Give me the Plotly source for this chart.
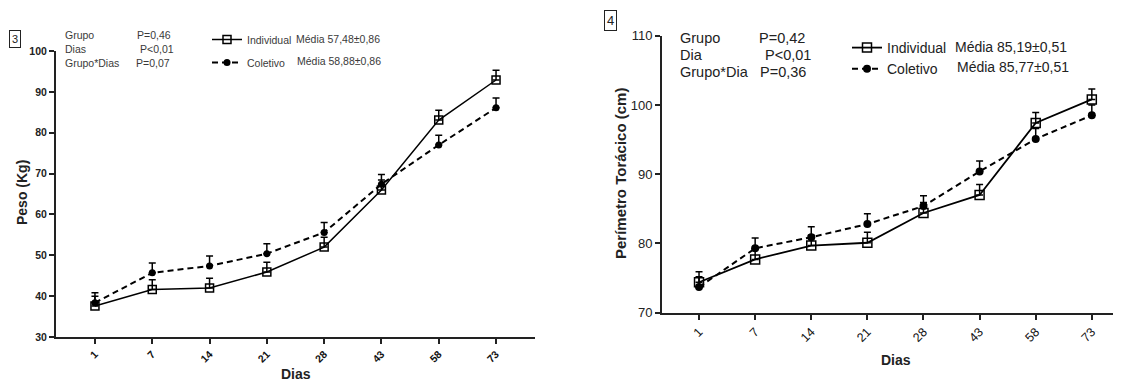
import plotly.graph_objects as go

# The page body has an 8px margin; the figure is sized to fill the visible window.
OFF = 8
W, H = 1121 - OFF, 383 - OFF

dias = ["1", "7", "14", "21", "28", "43", "58", "73"]

# Panel 3 - Peso (Kg)
peso_individual = [37.6, 41.6, 42.0, 45.9, 52.0, 66.0, 83.1, 92.9]
peso_coletivo = [38.4, 45.7, 47.4, 50.4, 55.6, 67.4, 77.0, 86.1]
peso_err_individual = [2.4, 2.4, 2.4, 2.4, 2.4, 2.4, 2.4, 2.4]
peso_err_coletivo = [2.4, 2.4, 2.4, 2.4, 2.4, 2.4, 2.4, 2.4]

# Panel 4 - Perímetro Torácico (cm)
pt_individual = [74.4, 77.7, 79.7, 80.1, 84.4, 87.0, 97.4, 100.8]
pt_coletivo = [73.7, 79.3, 80.9, 82.8, 85.4, 90.4, 95.1, 98.5]
pt_err_individual = [1.5, 1.5, 1.5, 1.5, 1.5, 1.5, 1.5, 1.5]
pt_err_coletivo = [1.5, 1.5, 1.5, 1.5, 1.5, 1.5, 1.5, 1.5]

FONT = "Liberation Sans, Arial, sans-serif"
TXT = "#3a3a3a"


def px(x):
    return (x - OFF) / W


def py(y):
    return 1 - (y - OFF) / H


fig = go.Figure()


def add_pair(ind, col, e_ind, e_col, xa, ya, leg, msize, lw):
    fig.add_trace(go.Scatter(
        x=dias, y=ind, xaxis=xa, yaxis=ya, name="Individual", legend=leg,
        legendgroup=leg + "a",
        mode="lines+markers",
        line=dict(color="black", width=lw),
        marker=dict(symbol="square-open", size=msize, color="black",
                    line=dict(width=1.5, color="black")),
        error_y=dict(type="data", symmetric=False, array=e_ind,
                     arrayminus=[0] * len(e_ind), color="black",
                     thickness=1.5, width=3.5),
    ))
    fig.add_trace(go.Scatter(
        x=dias, y=col, xaxis=xa, yaxis=ya, name="Coletivo", legend=leg,
        legendgroup=leg + "b",
        mode="lines+markers",
        line=dict(color="black", width=2, dash="6px,4px"),
        marker=dict(symbol="circle", size=msize - 1, color="black"),
        error_y=dict(type="data", symmetric=False, array=e_col,
                     arrayminus=[0] * len(e_col), color="black",
                     thickness=1.5, width=3.5),
    ))


add_pair(peso_individual, peso_coletivo, peso_err_individual, peso_err_coletivo,
         "x", "y", "legend", 8, 1.5)
add_pair(pt_individual, pt_coletivo, pt_err_individual, pt_err_coletivo,
         "x2", "y2", "legend2", 9, 1.8)

axis_common = dict(showline=True, linecolor="#222", linewidth=2, ticks="outside",
                   tickcolor="#222", tickwidth=1.5, ticklen=5, showgrid=False,
                   zeroline=False, mirror=False, automargin=False)

fig.update_layout(
    width=W, height=H,
    margin=dict(l=0, r=0, t=0, b=0, autoexpand=False),
    paper_bgcolor="white", plot_bgcolor="white",
    font=dict(family=FONT, color="#222"),
    xaxis=dict(domain=[px(56), px(535)], type="category", range=[-0.68, 7.68],
               tickangle=-45, tickfont=dict(size=10.5, family=FONT, weight="bold", color="#111"),
               anchor="y", **axis_common),
    yaxis=dict(domain=[py(337), py(51)], range=[30, 100], tickvals=[30, 40, 50, 60, 70, 80, 90, 100],
               tickfont=dict(size=10.5, family=FONT, weight="bold", color="#222"),
               anchor="x", **axis_common),
    xaxis2=dict(domain=[px(662), 1.0], type="category", range=[-0.66, 7.52],
                tickangle=-45, tickfont=dict(size=12.5, family=FONT, color="#111"),
                anchor="y2", **axis_common),
    yaxis2=dict(domain=[py(312.7), py(35.7)], range=[70, 110], tickvals=[70, 80, 90, 100, 110],
                tickfont=dict(size=13, family=FONT, color="#222"),
                anchor="x2", **axis_common),
    legend=dict(x=px(207), y=py(25), xanchor="left", yanchor="top",
                font=dict(size=10.5, family=FONT, color=TXT), bgcolor="rgba(0,0,0,0)",
                tracegroupgap=4, itemwidth=30),
    legend2=dict(x=px(847), y=py(32), xanchor="left", yanchor="top",
                 font=dict(size=14, family=FONT, color="#222"), bgcolor="rgba(0,0,0,0)",
                 tracegroupgap=0, itemwidth=30),
    showlegend=True,
)

ann = []


def text(x, y, s, size, color=TXT, bold=False, xanchor="left", angle=0, **kw):
    ann.append(dict(x=px(x), y=py(y), xref="paper", yref="paper", text=s,
                    showarrow=False, xanchor=xanchor, yanchor="middle",
                    textangle=angle,
                    font=dict(size=size, family=FONT, color=color,
                              weight="bold" if bold else "normal"), **kw))


# Panel labels
text(15, 39.5, "3", 11, color="#222", xanchor="center", bordercolor="#222",
     borderwidth=1, borderpad=2)
text(610, 21, "4", 13, color="#222", xanchor="center", bordercolor="#222",
     borderwidth=1, borderpad=2)

# Stats panel 3
text(63, 35, "Grupo", 10.5)
text(63, 49, "Dias", 10.5)
text(63, 63, "Grupo*Dias", 10.5)
text(135, 35, "P=0,46", 10.5)
text(138, 49, "P<0,01", 10.5)
text(134, 63, "P=0,07", 10.5)

# Stats panel 4
text(678, 38, "Grupo", 14.5, color="#222")
text(678, 55, "Dia", 14.5, color="#222")
text(678, 72, "Grupo*Dia", 14.5, color="#222")
text(757, 38, "P=0,42", 14.5, color="#222")
text(763, 55, "P<0,01", 14.5, color="#222")
text(758, 72, "P=0,36", 14.5, color="#222")

# Legend means
text(294, 39, "Média 57,48±0,86", 10.5)
text(295, 61, "Média 58,88±0,86", 10.5)
text(953, 47, "Média 85,19±0,51", 14, color="#222")
text(955, 67, "Média 85,77±0,51", 14, color="#222")

# Axis titles
text(22, 193, "Peso (Kg)", 14, color="#222", bold=True, xanchor="center", angle=-90)
text(296, 374, "Dias", 14, color="#222", bold=True, xanchor="center")
text(620, 174, "Perímetro Torácico (cm)", 15, color="#222", bold=True, xanchor="center", angle=-90)
text(896, 360, "Dias", 14, color="#222", bold=True, xanchor="center")

fig.update_layout(annotations=ann)

fig.write_html("out.html")
